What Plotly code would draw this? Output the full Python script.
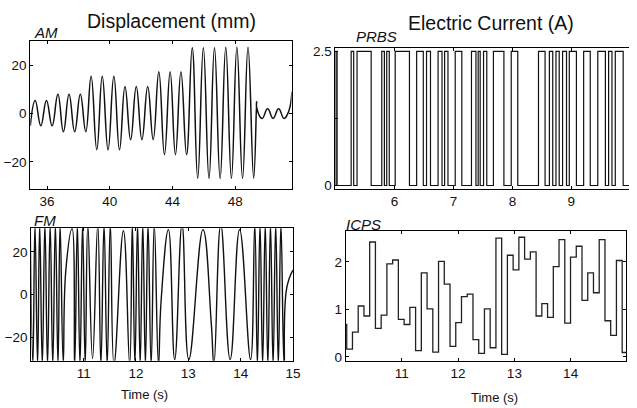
import plotly.graph_objects as go

W, H = 637, 408

# ---------------- data ----------------
# AM displacement: turning points of the oscillation (time s, displacement mm)
am_t = [34.93, 35.24, 35.60, 35.96, 36.32, 36.69, 37.04, 37.40, 37.76, 38.12, 38.47,
        38.81, 39.17, 39.52, 39.89, 40.26, 40.62, 40.97, 41.33, 41.69, 42.05, 42.42,
        42.77, 43.13, 43.49, 43.85, 44.19, 44.54, 44.90, 45.26, 45.61, 45.97, 46.33,
        46.68, 47.04, 47.40, 47.76, 48.11, 48.47, 48.82, 49.18, 49.37,
        49.38, 49.72, 50.07, 50.42, 50.77, 51.12, 51.42, 51.62]
am_v = [-5.0, 5.4, -5.0, 5.4, -5.0, 8.0, -7.5, 8.0, -7.5, 8.0, -7.5,
        15.5, -15.0, 15.5, -15.0, 15.5, -15.0, 11.2, -10.8, 11.2, -10.8, 11.2,
        -10.8, 17.3, -17.0, 17.3, -17.0, 17.3, -17.0, 27.2, -26.8, 27.2, -26.8,
        27.2, -26.8, 27.5, -26.8, 27.5, -26.8, 27.5, -26.8, 5.0,
        2.2, -2.0, 2.0, -2.0, 2.0, -2.0, 1.0, 9.0]

# FM displacement: turning points (time s, displacement mm)
fm_t = [9.98, 10.03, 10.07, 10.12, 10.16, 10.21, 10.26, 10.31, 10.36, 10.41, 10.46,
        10.51, 10.55, 10.61, 10.66, 10.78, 10.83, 10.88, 10.93, 10.98, 11.03, 11.08,
        11.17, 11.27, 11.33, 11.39, 11.45, 11.51, 11.58, 11.76, 11.88, 11.93, 11.98,
        12.03, 12.08, 12.13, 12.18, 12.23, 12.29, 12.35, 12.43, 12.48, 12.62, 12.74,
        12.88, 13.01, 13.28, 13.44, 13.49, 13.62, 13.80, 13.98, 14.19, 14.27, 14.32,
        14.37, 14.42, 14.47, 14.52, 14.57, 14.62, 14.67, 14.72, 14.77, 14.83, 14.88,
        15.00]
fm_v = [33, -33, 33, -33, 33, -33, 33, -33, 33, -33, 33,
        -33, 33, -32, 11.5, 31, -33, 33, -33, 33, -33, 33,
        -30, 33, -33, 33, -33, 33, -33, 30, -33, 33, -33,
        33, -33, 33, -33, 33, -33, 33, -33, -3, 30.5, -30.5,
        33, -30.5, 30.5, -14, -33, 33, -30.5, 30.5, -30.5, 33, -33,
        33, -33, 33, -33, 33, -33, 33, -33, 33, -33, 3,
        11.5]

# PRBS current: switching instants (s) and levels (A)
prbs_rise = [5.000, 5.262, 5.362, 5.782, 5.866, 6.010, 6.374, 6.542, 6.738, 6.849,
             7.029, 7.305, 7.419, 7.510, 7.678, 7.980, 8.443, 8.628, 8.740, 8.852,
             8.966, 9.210, 9.450, 9.634, 9.747]
prbs_fall = [5.023, 5.305, 5.602, 5.826, 5.909, 6.252, 6.487, 6.609, 6.805, 6.906,
             7.141, 7.381, 7.453, 7.565, 7.856, 8.091, 8.555, 8.685, 8.795, 8.919,
             9.087, 9.322, 9.579, 9.691, 9.881]
prbs_high, prbs_low = 2.5, 0.0
prbs_span = [5.0, 10.0]

# ICPS current: step instants (s) and held levels (A)
icps_t = [9.99, 10.020, 10.122, 10.224, 10.326, 10.428, 10.530, 10.632, 10.734, 10.836,
          10.938, 11.040, 11.142, 11.244, 11.346, 11.448, 11.550, 11.652, 11.754,
          11.856, 11.958, 12.060, 12.162, 12.264, 12.366, 12.468, 12.570, 12.672,
          12.774, 12.876, 12.978, 13.080, 13.182, 13.284, 13.386, 13.488, 13.590,
          13.692, 13.794, 13.896, 13.998, 14.100, 14.202, 14.304, 14.406, 14.508,
          14.610, 14.712, 14.814, 14.916, 14.99]
icps_v = [0.68, 0.16, 0.52, 1.07, 0.86, 2.42, 0.60, 0.88, 1.96, 2.04,
          0.79, 0.68, 1.04, 0.13, 1.77, 1.01, 0.10, 2.01, 1.53, 0.22,
          0.72, 1.27, 1.32, 0.36, 0.07, 1.01, 0.19, 2.50, 0.05, 2.14,
          1.83, 2.52, 2.06, 2.21, 0.86, 1.12, 0.83, 1.90, 2.47, 0.71,
          2.10, 2.33, 1.19, 1.77, 1.35, 2.47, 0.76, 0.45, 2.03, 0.09]

# ---------------- figure ----------------
INK = "#111111"
FONT = "Liberation Sans, Arial, sans-serif"

prbs_x, prbs_y = [prbs_span[0]], [prbs_low]
for r, f in zip(prbs_rise, prbs_fall):
    prbs_x += [r, r, f, f]
    prbs_y += [prbs_low, prbs_high, prbs_high, prbs_low]
prbs_x.append(prbs_span[1])
prbs_y.append(prbs_low)

fig = go.Figure()
fig.add_trace(go.Scatter(x=am_t, y=am_v, mode="lines",
                         line=dict(color=INK, width=1.5, shape="spline", smoothing=1.3),
                         xaxis="x", yaxis="y"))
fig.add_trace(go.Scatter(x=fm_t, y=fm_v, mode="lines",
                         line=dict(color=INK, width=1.4, shape="spline", smoothing=1.3),
                         xaxis="x2", yaxis="y2"))
fig.add_trace(go.Scatter(x=prbs_x, y=prbs_y, mode="lines", line=dict(color=INK, width=1.2),
                         xaxis="x3", yaxis="y3"))
fig.add_trace(go.Scatter(x=icps_t, y=icps_v + [icps_v[-1]], mode="lines",
                         line=dict(color="#222222", width=1.3, shape="hv"),
                         xaxis="x4", yaxis="y4"))


def px_x(a, b):
    return [a / W, min(b / W, 1.0)]


def px_y(top, bottom):
    return [1 - bottom / H, 1 - top / H]


def ax(domain, rng, tickvals, ticktext=None, anchor=None, mirror="ticks"):
    d = dict(domain=domain, range=rng, tickvals=tickvals, ticks="inside", ticklen=3,
             tickcolor="#000", showline=True, linecolor="#000", linewidth=1,
             mirror=mirror, showgrid=False, zeroline=False,
             tickfont=dict(family=FONT, size=13.5, color="#111"), anchor=anchor)
    if ticktext is not None:
        d["ticktext"] = ticktext
    return d


fig.update_layout(
    width=W, height=H, margin=dict(l=0, r=0, t=0, b=0),
    paper_bgcolor="white", plot_bgcolor="white", showlegend=False,
    xaxis=ax(px_x(30.7, 295.3), [34.93, 51.6], [36, 40, 44, 48], anchor="y"),
    yaxis=ax(px_y(39, 189), [-31.1, 29.9], [-20, 0, 20], anchor="x"),
    xaxis2=ax(px_x(31.7, 296.7), [10, 15], [11, 12, 13, 14, 15], anchor="y2"),
    yaxis2=ax(px_y(229.3, 364), [-31.1, 31.1], [-20, 0, 20], anchor="x2"),
    xaxis3=ax(px_x(339.7, 637), [4.995, 9.98], [6, 7, 8, 9], anchor="y3"),
    yaxis3=ax(px_y(45.3, 189.3), [-0.066, 2.57], [0, 1.25, 2.5], ["0", "", "2.5"],
              anchor="x3", mirror=False),
    xaxis4=ax(px_x(350, 634.3), [10, 14.99], [11, 12, 13, 14], anchor="y4"),
    yaxis4=ax(px_y(232.3, 364.3), [-0.09, 2.645], [0, 1, 2], anchor="x4"),
)


def note(text, x, y, size, italic=False, xanchor="center"):
    fig.add_annotation(text=f"<i>{text}</i>" if italic else text, x=x / W, y=1 - y / H,
                       xref="paper", yref="paper", xanchor=xanchor, yanchor="middle",
                       showarrow=False, font=dict(family=FONT, size=size, color="#111"))


note("Displacement (mm)", 173.7, 18.5, 19.5)
note("Electric Current (A)", 497.5, 20.7, 19.5)
note("AM", 32, 30, 15, italic=True, xanchor="left")
note("PRBS", 358, 34.5, 15, italic=True, xanchor="left")
note("FM", 32, 221.5, 15, italic=True, xanchor="left")
note("ICPS", 348, 225.5, 15, italic=True, xanchor="left")
note("Time (s)", 146.5, 398, 13)
note("Time (s)", 501, 401.5, 13)

fig.write_html("out.html")
